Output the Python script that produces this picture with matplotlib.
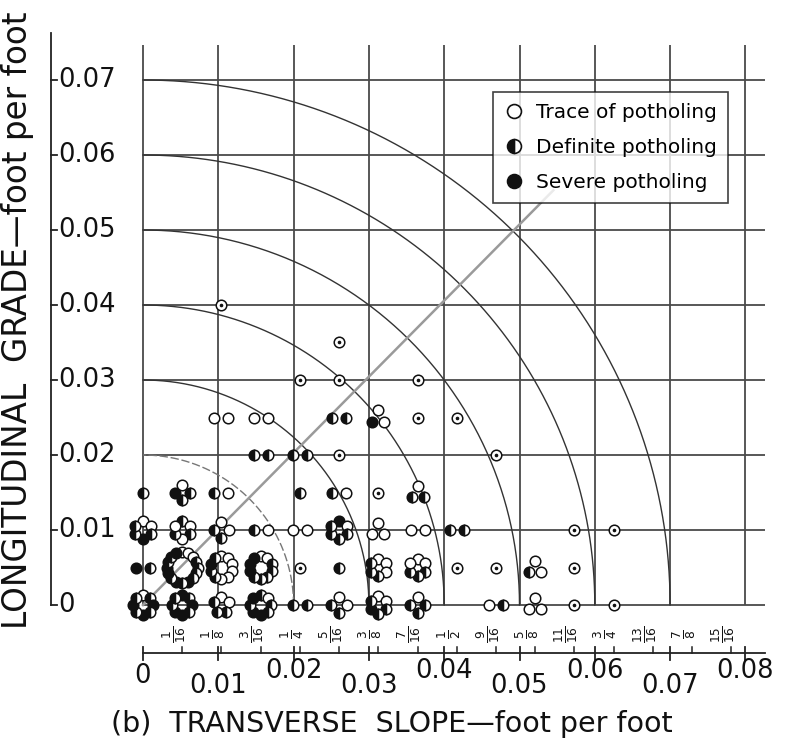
import numpy as np
import matplotlib
matplotlib.use('Agg')
import matplotlib.pyplot as plt
from matplotlib.lines import Line2D

plt.rcParams['font.family'] = ['DejaVu Sans']

# ---------------- data ----------------
# transverse slope in sixteenths of an inch per foot (x = n/192 ft/ft),
# longitudinal grade in ft/ft, observations: 'o' trace, 'h' definite, 's' severe
row_grades = [0.000, 0.005, 0.010, 0.015, 0.020, 0.025, 0.030, 0.035, 0.040]
row_slopes_16ths = [
    [0, 1, 2, 3, 4, 5, 6, 7, 9, 10, 11, 12],
    [0, 1, 2, 3, 4, 5, 6, 7, 8, 9, 10, 11],
    [0, 1, 2, 3, 4, 5, 6, 7, 8, 11, 12],
    [0, 1, 2, 4, 5, 6, 7],
    [3, 4, 5, 9],
    [2, 3, 5, 6, 7, 8],
    [4, 5, 7],
    [5],
    [2],
]
row_observations = [
    ["ohshshsh", "shshsshh", "oohhh", "hohhsshs", "hh", "oohh", "oohhsh", "ohhh", "oh", "ooo", "o", "o"],
    ["sh", "ooohhhhshshsshhs", "oooooohhsh", "oohhhhhsss", "o", "h", "ooohhh", "oohhho", "o", "o", "oho", "o"],
    ["oohshh", "hohoho", "oohh", "ho", "oo", "sohhhh", "ooo", "oo", "hh", "o", "o"],
    ["h", "ohhs", "ho", "h", "ho", "o", "ohh"],
    ["hh", "hh", "o", "o"],
    ["oo", "oo", "hh", "oso", "o", "o"],
    ["o", "o", "o"],
    ["o"],
    ["o"],
]

x_major = [0.00, 0.01, 0.02, 0.03, 0.04, 0.05, 0.06, 0.07, 0.08]
x_major_labels = ["0", "0.01", "0.02", "0.03", "0.04", "0.05", "0.06", "0.07", "0.08"]
y_major = [0.00, 0.01, 0.02, 0.03, 0.04, 0.05, 0.06, 0.07]
y_major_labels = ["0", "0.01", "0.02", "0.03", "0.04", "0.05", "0.06", "0.07"]
frac_16ths = list(range(1, 16))
frac_labels = [r"$\frac{1}{16}$", r"$\frac{1}{8}$", r"$\frac{3}{16}$", r"$\frac{1}{4}$",
               r"$\frac{5}{16}$", r"$\frac{3}{8}$", r"$\frac{7}{16}$", r"$\frac{1}{2}$",
               r"$\frac{9}{16}$", r"$\frac{5}{8}$", r"$\frac{11}{16}$", r"$\frac{3}{4}$",
               r"$\frac{13}{16}$", r"$\frac{7}{8}$", r"$\frac{15}{16}$"]
arc_radii = [0.02, 0.03, 0.04, 0.05, 0.06, 0.07]
legend_labels = ["Trace of potholing", "Definite potholing", "Severe potholing"]

# ---------------- figure ----------------
W, H = 787, 743
PX_X, PX_Y = 7530.0, 7500.0   # pixels per unit
X0, Y0 = 143, 605            # pixel of origin (y from top)
fig = plt.figure(figsize=(W / 100, H / 100), dpi=100)
ax = fig.add_axes([0, 0, 1, 1])
ax.set_xlim(-X0 / PX_X, (W - X0) / PX_X)
ax.set_ylim(-(H - Y0) / PX_Y, Y0 / PX_Y)
ax.axis('off')

def dx(p):
    return p / PX_X

def dy(p):
    return p / PX_Y

grid_c = '#4a4a4a'
xtop = dy(560)
xright = dx(622)
ax.vlines(x_major, 0, xtop, color=grid_c, lw=1.3, zorder=1)
ax.hlines(y_major, 0, xright, color=grid_c, lw=1.3, zorder=1)

th = np.linspace(0, np.pi / 2, 300)
for r in arc_radii:
    col = '#777777' if r == 0.02 else '#333333'
    ls = (0, (6, 2)) if r == 0.02 else '-'
    ax.plot(r * np.cos(th), r * np.sin(th), color=col, lw=1.0, ls=ls, zorder=2)
ax.plot([0, 0.0545], [0, 0.0553], color='#9a9a9a', lw=1.8, zorder=2)

# ---------------- points ----------------
styles = {
    'o': dict(marker='o', mfc='white', mec='#111111'),
    'h': dict(marker='o', fillstyle='left', mfc='#111111', mfcalt='white', mec='#111111'),
    's': dict(marker='o', mfc='#111111', mec='#111111'),
}

def offsets(n):
    if n == 1:
        return [(0, 0)]
    if n == 2:
        return [(-7, 0), (7, 0)]
    if n == 3:
        return [(0, 7), (-6, -4), (6, -4)]
    r = 5 + 0.65 * n
    ang = np.pi / 2 - 2 * np.pi * np.arange(n) / n
    return list(zip(r * np.cos(ang), r * np.sin(ang)))

for g, slopes, obs in zip(row_grades, row_slopes_16ths, row_observations):
    for s16, types in zip(slopes, obs):
        x = s16 / 192.0
        offs = offsets(len(types))
        for (ox, oy), t in zip(offs, types):
            ax.plot([x + dx(ox)], [g + dy(oy)], ls='none', ms=7.6, mew=1.1,
                    zorder=5, **styles[t])
        if types == 'o':
            ax.plot([x], [g], ls='none', marker='o', ms=1.6, color='#111111', zorder=6)

# ---------------- left axis ----------------
yax_x = dx(51 - X0)
ax.plot([yax_x, yax_x], [0, dy(Y0 - 33)], color='#222222', lw=1.3, clip_on=False)
for v, lab in zip(y_major, y_major_labels):
    ax.plot([yax_x, yax_x + dx(6)], [v, v], color='#222222', lw=1.3)
    ax.text(yax_x + dx(7), v, lab, ha='left', va='center', fontsize=18.5, color='#111111')
ax.text(dx(18 - X0), dy(Y0 - 320), "LONGITUDINAL  GRADE\u2014foot per foot",
        rotation=90, ha='center', va='center', fontsize=23.5, color='#111111')

# ---------------- bottom axis ----------------
xax_y = dy(Y0 - 653)
ax.plot([0, dx(765 - X0)], [xax_y, xax_y], color='#222222', lw=1.3)
for v in x_major:
    ax.plot([v, v], [xax_y + dy(6), xax_y - dy(7)], color='#222222', lw=1.3)
for i, (v, lab) in enumerate(zip(x_major, x_major_labels)):
    if i == 0:
        py = 676
    elif i % 2 == 0:
        py = 671
    else:
        py = 686
    ax.text(v, dy(Y0 - py), lab, ha='center', va='center', fontsize=18.5, color='#111111')
for n, lab in zip(frac_16ths, frac_labels):
    v = n / 192.0
    ax.plot([v, v], [xax_y, xax_y + dy(6)], color='#222222', lw=1.1)
    ax.text(v - dx(8), dy(Y0 - 634), lab, rotation=90, ha='center', va='center',
            fontsize=12.5, color='#111111')
ax.text(dx(392 - X0), dy(Y0 - 724), "(b)  TRANSVERSE  SLOPE\u2014foot per foot",
        ha='center', va='center', fontsize=20.5, color='#111111')

# ---------------- legend ----------------
handles = [Line2D([], [], ls='none', ms=10, mew=1.2, **styles[k]) for k in ['o', 'h', 's']]
leg = ax.legend(handles, legend_labels, loc='upper left',
                bbox_to_anchor=(493 / W, 1 - 92 / H), bbox_transform=fig.transFigure,
                frameon=True, fancybox=False, edgecolor='#111111', fontsize=14.5,
                handlelength=1.0, handletextpad=0.6, labelspacing=0.8, borderpad=0.55,
                borderaxespad=0)
leg.get_frame().set_linewidth(1.2)
leg.set_zorder(10)

fig.savefig('out.png', dpi=100)
